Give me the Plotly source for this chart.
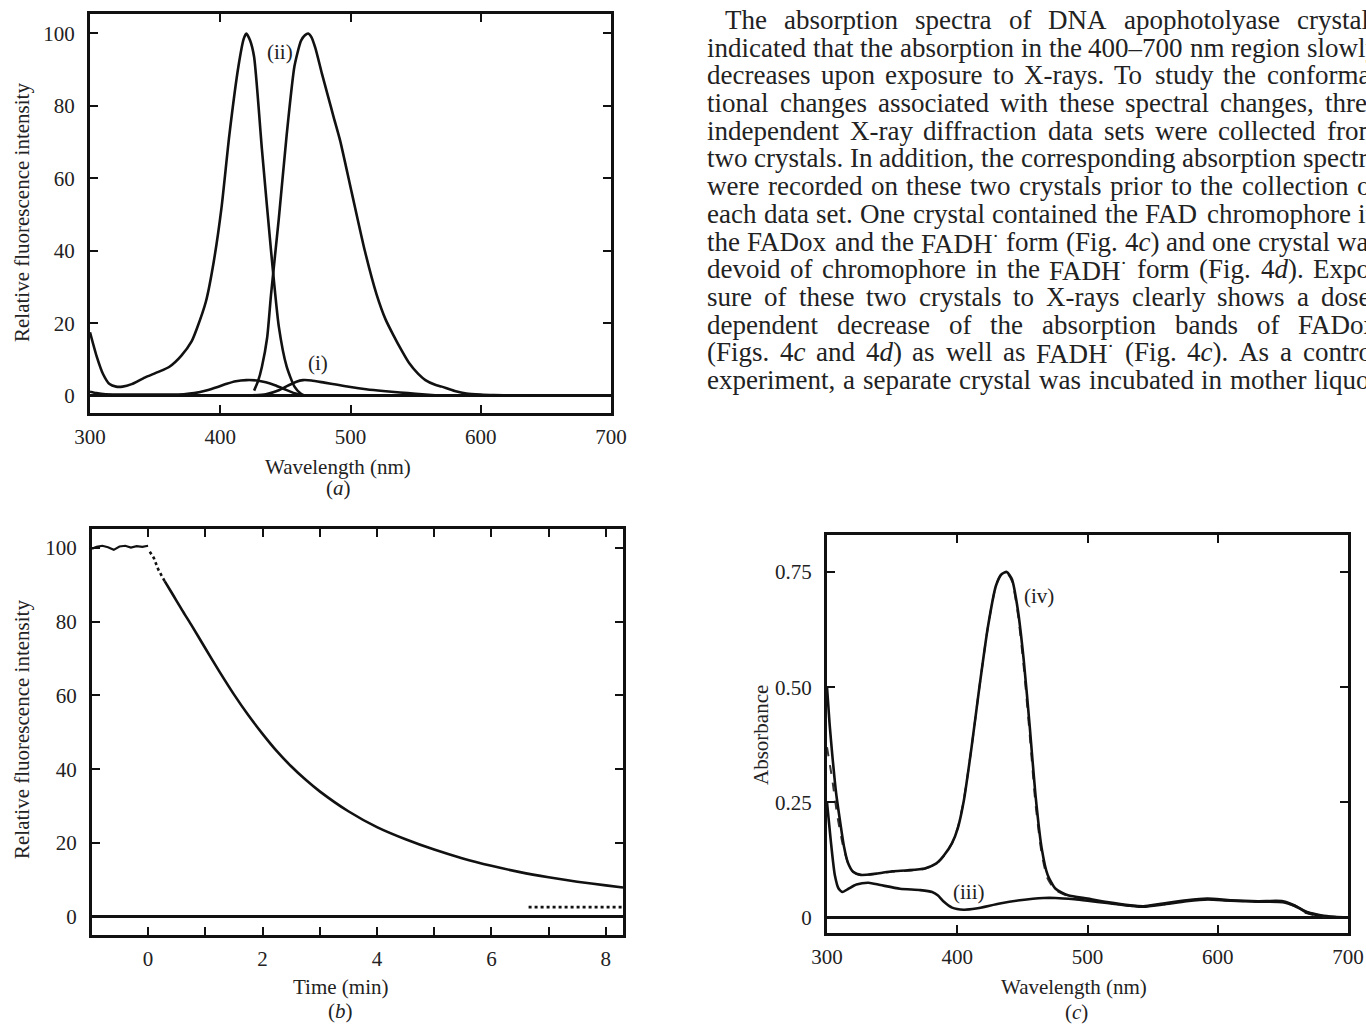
import re
import plotly.graph_objects as go

# ---------------- data ----------------
# Panel (a): fluorescence spectra
exc_ii_wl = [300, 305, 310, 315, 320, 325, 332, 342, 352, 361, 370, 378, 382, 389, 395, 401, 407, 414, 418, 420, 423, 426, 432, 439, 445, 451, 457, 462, 465]
exc_ii_val = [17.5, 11, 6, 3.2, 2.5, 2.5, 3.2, 5, 6.5, 8, 11, 15, 18.5, 26, 37, 52, 72, 91, 98.5, 100, 98, 93.5, 68, 40, 19, 8, 2.5, 0.5, 0]
em_ii_wl = [426, 429, 432, 436, 439, 445, 451, 457, 462, 465, 467.5, 470, 473, 478, 482.5, 487, 492, 501, 511, 520, 527, 532.5, 540, 545, 552, 557.5, 565, 570, 580, 589, 600, 610, 625, 640]
em_ii_val = [1.4, 4, 8, 16, 28, 49, 72, 91, 98, 99.5, 100, 99, 96, 89, 83, 77, 70.5, 56, 40, 28, 21, 17, 12, 9, 6, 4.3, 3, 2.5, 1.3, 0.6, 0.3, 0.15, 0.05, 0]
exc_i_wl = [300, 305, 312, 330, 360, 372, 380, 390, 398, 405, 412, 420, 428, 435, 442, 450, 457, 463]
exc_i_val = [1.1, 0.7, 0.4, 0.3, 0.3, 0.4, 0.7, 1.5, 2.4, 3.3, 4.0, 4.3, 4.2, 3.7, 2.9, 1.7, 0.7, 0.1]
em_i_wl = [425, 435, 445, 452, 458, 463.5, 470, 480, 490, 500, 512, 525, 538, 550, 565]
em_i_val = [0.1, 0.4, 1.5, 2.8, 3.8, 4.3, 4.2, 3.6, 3.0, 2.4, 1.8, 1.3, 0.9, 0.5, 0.1]

# Panel (b): fluorescence decay
t_base = [-0.98, -0.9, -0.8, -0.7, -0.6, -0.5, -0.4, -0.3, -0.2, -0.1, 0.0]
v_base = [99.8, 100.3, 100.6, 100.2, 99.5, 100.4, 100.6, 100.1, 100.5, 100.3, 100.6]
t_gap = [0.03, 0.1, 0.18, 0.29]
v_gap = [99.0, 97.3, 94.1, 91.0]
t_decay = [0.29, 0.4, 0.5, 0.6, 0.75, 1.0, 1.25, 1.5, 1.75, 2.0, 2.25, 2.5, 2.75, 3.0, 3.5, 4.0, 4.5, 5.0, 5.5, 6.0, 6.5, 7.0, 7.5, 8.0, 8.3]
v_decay = [91, 88.2, 85.6, 83.0, 79.3, 72.8, 66.4, 60.3, 54.7, 49.6, 44.9, 40.8, 37.2, 34.0, 28.6, 24.3, 21.0, 18.2, 15.8, 13.8, 12.1, 10.7, 9.5, 8.5, 7.9]
t_bg = [6.65, 8.3]
v_bg = [2.6, 2.6]
b_tickvals = [0, 2, 4, 6, 8]

# Panel (c): absorption spectra
iv_wl = [300, 302, 304, 307, 310, 313, 316, 320, 326, 338, 350, 362, 375, 384, 390, 396, 400.5, 405, 411, 417, 423.5, 429.7, 434, 438, 442, 446.5, 451, 455.7, 460, 464.8, 469.4, 475.5, 485, 500, 515, 533, 543, 558, 576, 592, 610, 631, 650, 659, 668, 680, 690, 700]
iv_val = [0.50, 0.42, 0.355, 0.27, 0.21, 0.155, 0.12, 0.10, 0.093, 0.096, 0.101, 0.103, 0.107, 0.118, 0.136, 0.162, 0.195, 0.253, 0.37, 0.50, 0.63, 0.72, 0.745, 0.75, 0.734, 0.668, 0.56, 0.413, 0.268, 0.151, 0.093, 0.063, 0.049, 0.0415, 0.034, 0.027, 0.025, 0.031, 0.038, 0.0415, 0.038, 0.036, 0.036, 0.027, 0.012, 0.004, 0.001, 0]
ivd_wl = [300, 304, 308, 312, 316, 320, 326, 338, 350, 362, 375, 384, 390, 396, 400.5, 405, 411, 417, 423.5, 429.7, 434, 438, 442, 446.5, 451, 455.7, 460, 464.8, 469.4, 475.5, 485, 500, 515, 533, 543, 558, 576, 592, 610, 631, 650, 659, 668, 680, 690, 700]
ivd_val = [0.37, 0.30, 0.22, 0.16, 0.12, 0.10, 0.092, 0.095, 0.100, 0.102, 0.106, 0.117, 0.135, 0.162, 0.196, 0.255, 0.37, 0.50, 0.63, 0.72, 0.745, 0.748, 0.73, 0.66, 0.545, 0.395, 0.25, 0.14, 0.085, 0.06, 0.047, 0.040, 0.033, 0.026, 0.024, 0.030, 0.037, 0.040, 0.037, 0.035, 0.035, 0.025, 0.010, 0.003, 0.001, 0]
iii_wl = [300, 302.8, 306, 309, 312, 316.5, 322.6, 331.8, 341, 356, 371.6, 380.7, 385, 390, 396, 405, 414.4, 432.7, 448, 466.4, 475.5, 490, 500, 515, 533, 543, 558, 576, 592, 610, 631, 650, 659, 668, 680, 690, 700]
iii_val = [0.25, 0.17, 0.093, 0.063, 0.056, 0.063, 0.072, 0.076, 0.071, 0.063, 0.060, 0.056, 0.049, 0.034, 0.022, 0.0175, 0.020, 0.031, 0.038, 0.043, 0.043, 0.040, 0.037, 0.032, 0.026, 0.024, 0.029, 0.036, 0.040, 0.037, 0.035, 0.034, 0.026, 0.013, 0.005, 0.002, 0]
c_tickvals = [0, 0.25, 0.5, 0.75]
c_ticktext = ["0", "0.25", "0.50", "0.75"]

paragraph = [
    "The absorption spectra of DNA apophotolyase crystals",
    "indicated that the absorption in the 400–700 nm region slowly",
    "decreases upon exposure to X-rays. To study the conforma-",
    "tional changes associated with these spectral changes, three",
    "independent X-ray diffraction data sets were collected from",
    "two crystals. In addition, the corresponding absorption spectra",
    "were recorded on these two crystals prior to the collection of",
    "each data set. One crystal contained the FAD chromophore in",
    "the FADox and the FADH<sup>·</sup> form (Fig. 4<i>c</i>) and one crystal was",
    "devoid of chromophore in the FADH<sup>·</sup> form (Fig. 4<i>d</i>). Expo-",
    "sure of these two crystals to X-rays clearly shows a dose-",
    "dependent decrease of the absorption bands of FADox",
    "(Figs. 4<i>c</i> and 4<i>d</i>) as well as FADH<sup>·</sup> (Fig. 4<i>c</i>). As a control",
    "experiment, a separate crystal was incubated in mother liquor",
]

# ---------------- layout helpers ----------------
W, H = 1366, 1026
FONT = "Liberation Serif"


def px(x):
    return x / W


def py(y):
    return 1 - y / H


# Times metrics (1/1000 em) used to justify the paragraph lines
TW = {' ': 250, '!': 333, '(': 333, ')': 333, ',': 250, '-': 333, '.': 250, '/': 278, ':': 278, ';': 278,
      '–': 500, '·': 250,
      'A': 722, 'B': 667, 'C': 667, 'D': 722, 'E': 611, 'F': 556, 'G': 722, 'H': 722, 'I': 333, 'J': 389,
      'K': 722, 'L': 611, 'M': 889, 'N': 722, 'O': 722, 'P': 556, 'Q': 722, 'R': 667, 'S': 556, 'T': 611,
      'U': 722, 'V': 722, 'W': 944, 'X': 722, 'Y': 722, 'Z': 611,
      'a': 444, 'b': 500, 'c': 444, 'd': 500, 'e': 444, 'f': 333, 'g': 500, 'h': 500, 'i': 278, 'j': 278,
      'k': 500, 'l': 278, 'm': 778, 'n': 500, 'o': 500, 'p': 500, 'q': 500, 'r': 333, 's': 389, 't': 278,
      'u': 500, 'v': 500, 'w': 722, 'x': 500, 'y': 500, 'z': 444}
for d in "0123456789":
    TW[d] = 500


def word_width(w, size):
    total = 0.0
    for part in re.split(r"(<sup>.*?</sup>)", w):
        scale = 0.7 if part.startswith("<sup>") else 1.0
        plain = re.sub(r"<[^>]+>", "", part)
        total += scale * sum(TW.get(ch, 500) for ch in plain)
    return total * size / 1000.0


fig = go.Figure()
LW = 2.6
black = "#111111"

# panel a
for xs, ys in [(exc_ii_wl, exc_ii_val), (em_ii_wl, em_ii_val), (exc_i_wl, exc_i_val), (em_i_wl, em_i_val)]:
    fig.add_trace(go.Scatter(x=xs, y=ys, mode="lines", line=dict(color=black, width=LW, shape="spline", smoothing=0.6),
                             xaxis="x", yaxis="y", showlegend=False, hoverinfo="skip"))
# panel b
fig.add_trace(go.Scatter(x=t_base, y=v_base, mode="lines", line=dict(color=black, width=2.2),
                         xaxis="x2", yaxis="y2", showlegend=False))
fig.add_trace(go.Scatter(x=t_gap, y=v_gap, mode="lines", line=dict(color=black, width=2.6, dash="dot"),
                         xaxis="x2", yaxis="y2", showlegend=False))
fig.add_trace(go.Scatter(x=t_decay, y=v_decay, mode="lines", line=dict(color=black, width=2.6, shape="spline", smoothing=0.6),
                         xaxis="x2", yaxis="y2", showlegend=False))
fig.add_trace(go.Scatter(x=t_bg, y=v_bg, mode="lines", line=dict(color=black, width=2.8, dash="dot"),
                         xaxis="x2", yaxis="y2", showlegend=False))
# panel c
fig.add_trace(go.Scatter(x=ivd_wl, y=ivd_val, mode="lines", line=dict(color="#333333", width=2.0, dash="dash", shape="spline", smoothing=0.6),
                         xaxis="x3", yaxis="y3", showlegend=False))
fig.add_trace(go.Scatter(x=iv_wl, y=iv_val, mode="lines", line=dict(color=black, width=LW, shape="spline", smoothing=0.6),
                         xaxis="x3", yaxis="y3", showlegend=False))
fig.add_trace(go.Scatter(x=iii_wl, y=iii_val, mode="lines", line=dict(color=black, width=LW, shape="spline", smoothing=0.6),
                         xaxis="x3", yaxis="y3", showlegend=False))

tickfont = dict(family=FONT, size=21, color="#222222")
common_x = dict(showline=True, mirror="ticks", linewidth=3, linecolor=black, ticks="inside", ticklen=8,
                tickwidth=2, tickcolor=black, showgrid=False, zeroline=False, tickfont=tickfont,
                ticklabelstandoff=3, automargin=False)
common_y = dict(showline=True, mirror="ticks", linewidth=3, linecolor=black, ticks="inside", ticklen=8,
                tickwidth=2, tickcolor=black, showgrid=False, zeroline=True, zerolinecolor=black,
                zerolinewidth=3, tickfont=tickfont, ticklabelstandoff=8, automargin=False)

fig.update_layout(
    template="none",
    width=W, height=H, margin=dict(l=0, r=0, t=0, b=0, pad=0), autosize=False,
    paper_bgcolor="white", plot_bgcolor="white", showlegend=False,
    xaxis=dict(common_x, domain=[px(90), px(611)], range=[300, 700], tickvals=[300, 400, 500, 600, 700], anchor="y"),
    yaxis=dict(common_y, domain=[py(413), py(14)], range=[-4.78, 105.38], tickvals=[0, 20, 40, 60, 80, 100], anchor="x"),
    xaxis2=dict(common_x, domain=[px(92), px(623)], range=[-0.98, 8.3], tickvals=b_tickvals, anchor="y2",
                minor=dict(dtick=1, tick0=0, ticks="inside", ticklen=8, tickwidth=2, tickcolor=black, showgrid=False)),
    yaxis2=dict(common_y, domain=[py(935), py(529)], range=[-4.96, 105.15], tickvals=[0, 20, 40, 60, 80, 100], anchor="x2"),
    xaxis3=dict(common_x, domain=[px(827), px(1348)], range=[300, 700], tickvals=[300, 400, 500, 600, 700], anchor="y3"),
    yaxis3=dict(common_y, domain=[py(933), py(535)], range=[-0.033, 0.83], tickvals=c_tickvals, ticktext=c_ticktext, anchor="x3"),
)

ann = []


def text(x, y, s, size=21, angle=0, xanchor="center"):
    ann.append(dict(x=px(x), y=py(y), xref="paper", yref="paper", text=s, showarrow=False,
                    font=dict(family=FONT, size=size, color="#222222"),
                    textangle=angle, xanchor=xanchor, yanchor="middle", borderpad=0))


# axis titles & panel labels
text(22, 213, "Relative fluorescence intensity", angle=-90)
text(338, 467, "Wavelength (nm)")
text(338, 488, "(<i>a</i>)")
text(22, 730, "Relative fluorescence intensity", angle=-90)
text(340, 987, "Time (min)")
text(340, 1011, "(<i>b</i>)")
text(761, 735, "Absorbance", angle=-90)
text(1074, 987, "Wavelength (nm)")
text(1076, 1012, "(<i>c</i>)")

# curve labels in data coordinates
for xr, yr, xv, yv, s in [("x", "y", 446, 95, "(ii)"), ("x", "y", 475, 9, "(i)"),
                          ("x3", "y3", 463, 0.698, "(iv)"), ("x3", "y3", 409, 0.056, "(iii)")]:
    ann.append(dict(x=xv, y=yv, xref=xr, yref=yr, text=s, showarrow=False,
                    font=dict(family=FONT, size=21, color="#222222"), xanchor="center", yanchor="middle"))

# paragraph text, justified word by word
PSIZE = 27
LEFT, INDENT, RIGHT = 706, 724, 1378
for i, line in enumerate(paragraph):
    words = line.split(" ")
    x0 = INDENT if i == 0 else LEFT
    widths = [word_width(w, PSIZE) for w in words]
    gap = (RIGHT - x0 - sum(widths)) / (len(words) - 1)
    x = x0
    for w, wd in zip(words, widths):
        text(x, 20 + i * 27.7, w, size=PSIZE, xanchor="left")
        x += wd + gap

fig.update_layout(annotations=ann)
fig.write_html(
    "out.html",
    config={"displayModeBar": False, "staticPlot": True},
    post_script="document.body.style.margin='0';document.body.style.overflow='hidden';"
                "document.documentElement.style.overflow='hidden';",
)
